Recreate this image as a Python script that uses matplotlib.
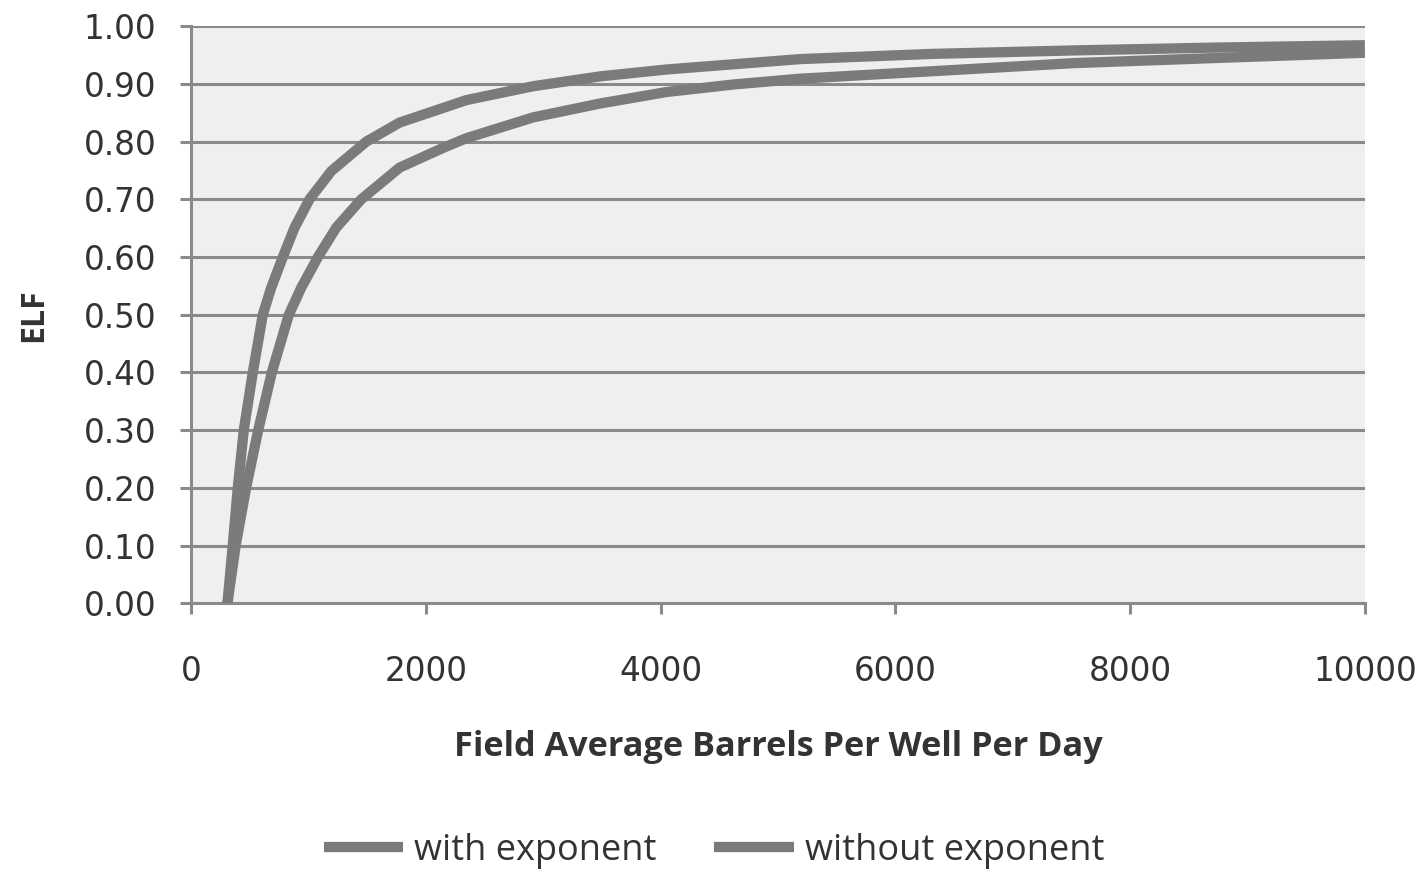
import matplotlib
matplotlib.use("Agg")
import matplotlib.pyplot as plt

# Barrels per well per day (x) and economic limit factor (y) for each series
bpd_without = [310, 355, 398, 449, 526, 611, 683, 782, 882, 1009, 1195, 1493, 1777,
               2347, 2915, 3484, 4053, 4622, 5190, 6317, 7520, 8750, 10000]
elf_without = [0.00, 0.10, 0.20, 0.30, 0.40, 0.50, 0.547, 0.60, 0.651, 0.70, 0.749,
               0.80, 0.833, 0.872, 0.896, 0.913, 0.925, 0.934, 0.943, 0.952, 0.958,
               0.963, 0.967]

bpd_with = [310, 380, 469, 572, 688, 833, 939, 1081, 1237, 1450, 1777, 2146, 2347,
            2915, 3484, 4053, 4622, 5190, 6317, 7520, 8750, 10000]
elf_with = [0.00, 0.10, 0.20, 0.30, 0.40, 0.50, 0.547, 0.60, 0.651, 0.70, 0.755,
            0.789, 0.806, 0.842, 0.866, 0.886, 0.899, 0.909, 0.922, 0.936, 0.945,
            0.954]

x_ticks = [0, 2000, 4000, 6000, 8000, 10000]
y_ticks = [0.0, 0.1, 0.2, 0.3, 0.4, 0.5, 0.6, 0.7, 0.8, 0.9, 1.0]

line_color = "#7b7b7b"
grid_color = "#8a8a8a"
text_color = "#333333"

fig = plt.figure(figsize=(14.28, 8.73), dpi=100)
ax = fig.add_axes([0.1338, 0.309, 0.822, 0.661])
ax.set_facecolor("#efefef")

ax.plot(bpd_with, elf_with, color=line_color, lw=7.4, solid_capstyle="butt",
        solid_joinstyle="round", label="with exponent", zorder=3)
ax.plot(bpd_without, elf_without, color=line_color, lw=7.4, solid_capstyle="butt",
        solid_joinstyle="round", label="without exponent", zorder=3)

ax.set_xlim(0, 10000)
ax.set_ylim(0, 1.0)
ax.set_xticks(x_ticks)
ax.set_xticklabels([str(v) for v in x_ticks])
ax.set_yticks(y_ticks)
ax.set_yticklabels([f"{v:.2f}" for v in y_ticks])

ax.yaxis.grid(True, color=grid_color, lw=2.2)
ax.set_axisbelow(True)
for side in ("top", "right"):
    ax.spines[side].set_visible(False)
for side in ("left", "bottom"):
    ax.spines[side].set_color(grid_color)
    ax.spines[side].set_linewidth(2.2)

ax.tick_params(axis="both", direction="out", length=8, width=2.2, color=grid_color,
               labelcolor=text_color, labelsize=23.5)
ax.tick_params(axis="y", pad=17)
ax.tick_params(axis="x", pad=29)
for lbl in ax.get_xticklabels() + ax.get_yticklabels():
    lbl.set_family("DejaVu Sans")

ax.set_xlabel("Field Average Barrels Per Well Per Day", fontsize=24.7, fontweight="bold",
              family="Open Sans", color=text_color)
ax.xaxis.set_label_coords(0.5, (603 - 747) / 577)
ax.xaxis.label.set_verticalalignment("center")

ax.set_ylabel("ELF", fontsize=23, fontweight="bold", family="Open Sans",
              color=text_color)
ax.yaxis.set_label_coords((34 - 191) / 1174, 0.5)
ax.yaxis.label.set_verticalalignment("center")

fig.legend(loc="center", bbox_to_anchor=(0.5, 1 - 851 / 873), ncol=2, frameon=False,
           prop={"family": "Open Sans", "size": 26}, handlelength=2.2,
           handletextpad=0.3, columnspacing=1.6, labelcolor=text_color)

fig.savefig("out.png", dpi=100, facecolor="white")
